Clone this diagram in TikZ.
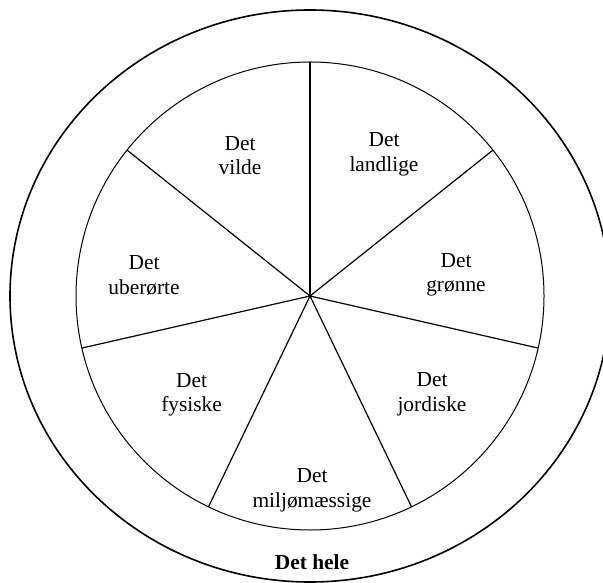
\documentclass[tikz,border=0pt]{standalone}
\usepackage{fontspec}
\setmainfont{Liberation Serif}
\begin{document}
\begin{tikzpicture}[
  every node/.style={inner sep=0pt, outer sep=0pt},
  sector/.style={font=\fontsize{10.7}{12.3}\selectfont, align=center},
  whole/.style={font=\fontsize{10.7}{12.3}\selectfont\bfseries},
  spoke/.style={line width=0.6pt}
]
\useasboundingbox (-155pt,-143pt) rectangle (146.5pt,148pt);

% Inner wheel and the slightly wider outer ring.
\def\R{117pt}
\coordinate (O) at (0,0);

\draw[line width=0.8pt] (O) ellipse [x radius=150pt, y radius=143pt];
\draw[line width=0.5pt] (O) circle (\R);

% Seven equal sectors, the first spoke straight up.
\coordinate (s1) at (90:\R);
\coordinate (s2) at (38.57:\R);
\coordinate (s3) at (-12.86:\R);
\coordinate (s4) at (-64.29:\R);
\coordinate (s5) at (-115.71:\R);
\coordinate (s6) at (192.86:\R);
\coordinate (s7) at (141.43:\R);

\draw[spoke] (O) -- (s1);
\draw[spoke] (O) -- (s2);
\draw[spoke] (O) -- (s3);
\draw[spoke] (O) -- (s4);
\draw[spoke] (O) -- (s5);
\draw[spoke] (O) -- (s6);
\draw[spoke] (O) -- (s7);

% Sector names, clockwise from the top.
\node[sector] (landlige) at ( 37pt, 70.7pt) {Det\\landlige};
\node[sector] (gronne)   at ( 73pt, 10.5pt) {Det\\grønne};
\node[sector] (jordiske) at ( 61pt,-49pt)   {Det\\jordiske};
\node[sector] (miljo)    at (  1pt,-97.2pt) {Det\\miljømæssige};
\node[sector] (fysiske)  at (-59.2pt,-49.5pt) {Det\\fysiske};
\node[sector] (uberorte) at (-83pt, 10.2pt) {Det\\uberørte};
\node[sector] (vilde)    at (-35pt, 70.2pt) {Det\\vilde};

% Name of the outer ring.
\node[whole] (hele) at (1pt,-133pt) {Det hele};

\end{tikzpicture}
\end{document}
